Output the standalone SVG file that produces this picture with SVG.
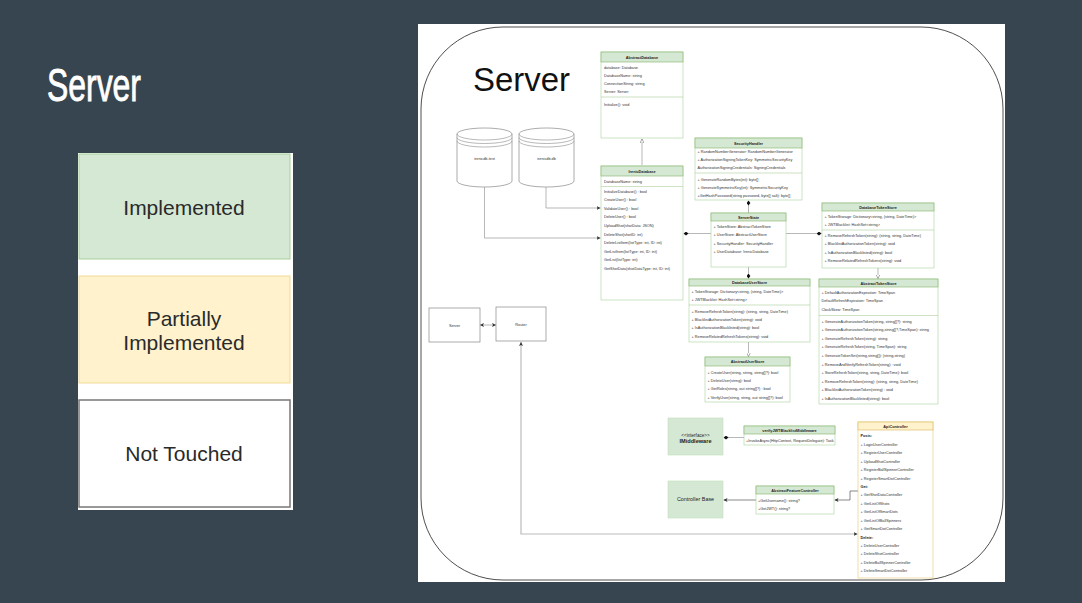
<svg xmlns="http://www.w3.org/2000/svg" width="1082" height="603" viewBox="0 0 1082 603">
<style>
.bg{fill:#36454f}
.hdr{fill:#d5e8d4;stroke:#82b366;stroke-width:.6}
.body{fill:#fff;stroke:#a9cf9b;stroke-width:.6}
.yhdr{fill:#fff2cc;stroke:#d6b656;stroke-width:.6}
.ybody{fill:#fff;stroke:#e3c972;stroke-width:.6}
.sep{stroke:#a9cf9b;stroke-width:.6}
.t{font-family:"Liberation Sans",Arial,sans-serif;font-size:3.8px;fill:#333}
.th{font-family:"Liberation Sans",Arial,sans-serif;font-size:3.8px;fill:#222;font-weight:bold;text-anchor:middle}
.tb{font-family:"Liberation Sans",Arial,sans-serif;font-size:3.8px;fill:#222;font-weight:bold}
.c{fill:none;stroke:#999;stroke-width:.7}
.plain{fill:#fff;stroke:#888;stroke-width:.7}
.leg{font-family:"Liberation Sans",Arial,sans-serif;font-size:21px;fill:#2a2a2a;text-anchor:middle}
</style>
<defs>
<marker id="tri" viewBox="0 0 6 6" refX="6" refY="3" markerWidth="4" markerHeight="4" markerUnits="userSpaceOnUse" orient="auto"><path d="M0,0 L6,3 L0,6 Z" fill="#fff" stroke="#666" stroke-width=".8"/></marker>
<marker id="dia" viewBox="0 0 8 6" refX="8" refY="3" markerWidth="5" markerHeight="4" markerUnits="userSpaceOnUse" orient="auto"><path d="M0,3 L4,0 L8,3 L4,6 Z" fill="#111"/></marker>
<marker id="arr" viewBox="0 0 6 6" refX="6" refY="3" markerWidth="4" markerHeight="4" markerUnits="userSpaceOnUse" orient="auto-start-reverse"><path d="M0,0 L6,3 L0,6 L1.5,3 Z" fill="#333"/></marker>
</defs>

<rect class="bg" x="0" y="0" width="1082" height="603"/>
<text x="47" y="101" font-family="'Liberation Sans',Arial,sans-serif" font-size="46" fill="#fff" stroke="#fff" stroke-width="0.9" textLength="94" lengthAdjust="spacingAndGlyphs">Server</text>

<g id="legend">
<rect x="78" y="153" width="215" height="357" fill="#fff"/>
<rect x="79" y="154" width="211" height="105" fill="#d5e8d4" stroke="#a6d096" stroke-width="1"/>
<text class="leg" x="184" y="214.5">Implemented</text>
<rect x="79" y="276" width="211" height="107" fill="#fff2cc" stroke="#f1dc97" stroke-width="1"/>
<text class="leg" x="184" y="325.5">Partially</text>
<text class="leg" x="184" y="349.5">Implemented</text>
<rect x="79" y="400" width="211" height="107" fill="#fff" stroke="#777" stroke-width="1.5"/>
<text class="leg" x="184" y="460.5">Not Touched</text>
</g>

<rect x="418" y="24" width="587" height="558" fill="#fff"/>
<rect x="421" y="27" width="582" height="553" rx="82" ry="82" fill="none" stroke="#222" stroke-width=".8"/>
<text x="473" y="91" font-family="'Liberation Sans',Arial,sans-serif" font-size="33" fill="#111" textLength="97" lengthAdjust="spacingAndGlyphs">Server</text>

<g id="connectors">
<path class="c" d="M642,165 V139" marker-end="url(#tri)"/>
<path class="c" d="M484.5,186 V238 H600.5" marker-end="url(#arr)"/>
<path class="c" d="M546,186 V208 H600.5" marker-end="url(#arr)"/>
<path class="c" d="M748.5,213 V200.5" marker-end="url(#dia)"/>
<path class="c" d="M711,233.5 H683.5" marker-end="url(#dia)"/>
<path class="c" d="M786,233.5 H821.5" marker-end="url(#dia)"/>
<path class="c" d="M748.5,267 V278.5" marker-end="url(#dia)"/>
<path class="c" d="M878,268 V278.5" marker-end="url(#tri)"/>
<path class="c" d="M748.5,342 V356.5" marker-end="url(#tri)"/>
<path class="c" d="M480,325 H496" marker-start="url(#arr)" marker-end="url(#arr)"/>
<path fill="none" stroke="#bbb" stroke-width="1.2" d="M521,342 V534 H857.5" marker-start="url(#arr)" marker-end="url(#arr)"/>
<path class="c" d="M744,437.5 H723.5" marker-end="url(#dia)"/>
<path fill="none" stroke="#555" stroke-width=".7" d="M756,500 H723.5" marker-end="url(#arr)"/>
<path fill="none" stroke="#555" stroke-width=".7" d="M858,491 H850 V500 H834.5" marker-end="url(#arr)"/>
</g>

<g id="db-test">
<path class="plain" d="M457,134 A27.5,6 0 0 1 512,134 L512,181 A27.5,6 0 0 1 457,181 Z"/>
<path class="c" stroke="#888" d="M457,134 A27.5,6 0 0 0 512,134 M457,137.5 A27.5,6 0 0 0 512,137.5 M457,141 A27.5,6 0 0 0 512,141"/>
<text class="t" x="484.5" y="160" text-anchor="middle">irenicdb-test</text>
</g>
<g id="db-main">
<path class="plain" d="M519,134 A27.5,6 0 0 1 574,134 L574,181 A27.5,6 0 0 1 519,181 Z"/>
<path class="c" stroke="#888" d="M519,134 A27.5,6 0 0 0 574,134 M519,137.5 A27.5,6 0 0 0 574,137.5 M519,141 A27.5,6 0 0 0 574,141"/>
<text class="t" x="546.5" y="160" text-anchor="middle">irenicdb.db</text>
</g>

<g id="AbstractDatabase">
<rect class="body" x="601" y="52" width="82" height="86"/>
<rect class="hdr" x="601" y="52" width="82" height="10"/>
<text class="th" x="642" y="58.5">AbstractDatabase</text>
<text class="t" x="604" y="68.5">database: Database</text>
<text class="t" x="604" y="76.5">DatabaseName: string</text>
<text class="t" x="604" y="84.5">ConnectionString: string</text>
<text class="t" x="604" y="92.5">Server: Server</text>
<line class="sep" x1="601" y1="97" x2="683" y2="97"/>
<text class="t" x="604" y="105.5">Initialize(): void</text>
</g>

<g id="IrenicDatabase">
<rect class="body" x="601" y="166" width="82" height="134"/>
<rect class="hdr" x="601" y="166" width="82" height="10"/>
<text class="th" x="642" y="172.5">IrenicDatabase</text>
<text class="t" x="604" y="182.5">DatabaseName: string</text>
<line class="sep" x1="601" y1="186.5" x2="683" y2="186.5"/>
<text class="t" x="604" y="192.5">InitializeDatabase() : bool</text>
<text class="t" x="604" y="201.2">CreateUser() : bool</text>
<text class="t" x="604" y="209.8">ValidateUser() : bool</text>
<text class="t" x="604" y="218.4">DeleteUser() : bool</text>
<text class="t" x="604" y="227">UploadShot(shotData: JSON)</text>
<text class="t" x="604" y="235.6">DeleteShot(shotID: int)</text>
<text class="t" x="604" y="244.2">DeleteListItem(listType: int, ID: int)</text>
<text class="t" x="604" y="252.8">GetListItem(listType: int, ID: int)</text>
<text class="t" x="604" y="261.4">GetList(listType: int)</text>
<text class="t" x="604" y="270">GetShotData(shotDataType: int, ID: int)</text>
</g>

<g id="SecurityHandler">
<rect class="body" x="695" y="138" width="107" height="62"/>
<rect class="hdr" x="695" y="138" width="107" height="10"/>
<text class="th" x="748.5" y="144.5">SecurityHandler</text>
<text class="t" x="697.5" y="152.5">+ RandomNumberGenerator: RandomNumberGenerator</text>
<text class="t" x="697.5" y="160.5">+ AuthorizationSigningTokenKey: SymmetricSecurityKey</text>
<text class="t" x="697.5" y="168.5">AuthorizationSigningCredentials: SigningCredentials</text>
<line class="sep" x1="695" y1="173" x2="802" y2="173"/>
<text class="t" x="697.5" y="180.5">+ GenerateRandomBytes(int): byte[]</text>
<text class="t" x="697.5" y="188.5">+ GenerateSymmetricKey(int): SymmetricSecurityKey</text>
<text class="t" x="697.5" y="196.5">+GetHashPassword(string password, byte[] salt): byte[]</text>
</g>

<g id="ServerState">
<rect class="body" x="711" y="213" width="75" height="54"/>
<rect class="hdr" x="711" y="213" width="75" height="8"/>
<text class="th" x="748.5" y="218.8">ServerState</text>
<text class="t" x="713.5" y="227.5">+ TokenStore: AbstractTokenStore</text>
<text class="t" x="713.5" y="235.8">+ UserStore: AbstractUserStore</text>
<text class="t" x="713.5" y="244.5">+ SecurityHandler: SecurityHandler</text>
<text class="t" x="713.5" y="253.2">+ UserDatabase: IrenicDatabase</text>
</g>

<g id="DatabaseTokenStore">
<rect class="body" x="822" y="203" width="112" height="65"/>
<rect class="hdr" x="822" y="203" width="112" height="8"/>
<text class="th" x="878" y="208.8">DatabaseTokenStore</text>
<text class="t" x="824.5" y="217.5">+ TokenStorage: Dictionary&lt;string, (string, DateTime)&gt;</text>
<text class="t" x="824.5" y="225.5">+ JWTBlacklist: HashSet&lt;string&gt;</text>
<line class="sep" x1="822" y1="230" x2="934" y2="230"/>
<text class="t" x="824.5" y="236.5">+ RemoveRefreshToken(string): (string, string, DateTime)</text>
<text class="t" x="824.5" y="245.2">+ BlacklistAuthorizationToken(string): void</text>
<text class="t" x="824.5" y="253.8">+ IsAuthorizationBlacklisted(string): bool</text>
<text class="t" x="824.5" y="262.4">+ RemoveRelatedRefreshTokens(string): void</text>
</g>

<g id="AbstractTokenStore">
<rect class="body" x="819" y="279" width="119" height="125"/>
<rect class="hdr" x="819" y="279" width="119" height="8"/>
<text class="th" x="878.5" y="284.8">AbstractTokenStore</text>
<text class="t" x="821.5" y="293.5">+ DefaultAuthorizationExpiration: TimeSpan</text>
<text class="t" x="821.5" y="301.8">DefaultRefreshExpiration: TimeSpan</text>
<text class="t" x="821.5" y="310.5">ClockSkew: TimeSpan</text>
<line class="sep" x1="819" y1="315.5" x2="938" y2="315.5"/>
<text class="t" x="821.5" y="322.5">+ GenerateAuthorizationToken(string, string[]?): string</text>
<text class="t" x="821.5" y="331.1">+ GenerateAuthorizationToken(string,string[]?,TimeSpan): string</text>
<text class="t" x="821.5" y="339.7">+ GenerateRefreshToken(string): string</text>
<text class="t" x="821.5" y="348.3">+ GenerateRefreshToken(string, TimeSpan): string</text>
<text class="t" x="821.5" y="356.9">+ GenerateTokenSet(string,string[]): (string,string)</text>
<text class="t" x="821.5" y="365.5">+ RemoveAndVerifyRefreshToken(string) : void</text>
<text class="t" x="821.5" y="374.1">+ StoreRefreshToken(string, string, DateTime): bool</text>
<text class="t" x="821.5" y="382.7">+ RemoveRefreshToken(string): (string, string, DateTime)</text>
<text class="t" x="821.5" y="391.3">+ BlacklistAuthorizationToken(string) : void</text>
<text class="t" x="821.5" y="399.9">+ IsAuthorizationBlacklisted(string): bool</text>
</g>

<g id="DatabaseUserStore">
<rect class="body" x="689" y="279" width="121" height="63"/>
<rect class="hdr" x="689" y="279" width="121" height="7"/>
<text class="th" x="749.5" y="284.2">DatabaseUserStore</text>
<text class="t" x="691.5" y="292.8">+ TokenStorage: Dictionary&lt;string, (string, DateTime)&gt;</text>
<text class="t" x="691.5" y="300.8">+ JWTBlacklist: HashSet&lt;string&gt;</text>
<line class="sep" x1="689" y1="305" x2="810" y2="305"/>
<text class="t" x="691.5" y="312.5">+ RemoveRefreshToken(string): (string, string, DateTime)</text>
<text class="t" x="691.5" y="320.8">+ BlacklistAuthorizationToken(string): void</text>
<text class="t" x="691.5" y="329">+ IsAuthorizationBlacklisted(string): bool</text>
<text class="t" x="691.5" y="337.5">+ RemoveRelatedRefreshTokens(string): void</text>
</g>

<g id="AbstractUserStore">
<rect class="body" x="705" y="357" width="85" height="45"/>
<rect class="hdr" x="705" y="357" width="85" height="9"/>
<text class="th" x="747.5" y="363.3">AbstractUserStore</text>
<text class="t" x="707.5" y="373.5">+ CreateUser(string, string, string[]?): bool</text>
<text class="t" x="707.5" y="381.8">+ DeleteUser(string): bool</text>
<text class="t" x="707.5" y="390.3">+ GetRoles(string, out string[]?) : bool</text>
<text class="t" x="707.5" y="398.7">+ VerifyUser(string, string, out string[]?): bool</text>
</g>

<g id="ServerBox">
<rect class="plain" x="429" y="308" width="51" height="34"/>
<text class="t" x="454.5" y="326.5" text-anchor="middle">Server</text>
</g>
<g id="Router">
<rect class="plain" x="496" y="307" width="50" height="34"/>
<text class="t" x="521" y="325.5" text-anchor="middle">Router</text>
</g>

<g id="IMiddleware">
<rect x="668" y="418" width="55" height="37" fill="#d5e8d4" stroke="#c3dfba" stroke-width=".6"/>
<text x="695.5" y="436.5" font-family="'Liberation Sans',Arial,sans-serif" font-size="4.6" fill="#222" text-anchor="middle">&lt;&lt;interface&gt;&gt;</text>
<text x="695.5" y="443.3" font-family="'Liberation Sans',Arial,sans-serif" font-size="5.6" font-weight="bold" fill="#222" text-anchor="middle">IMiddleware</text>
</g>

<g id="verifyJWTBlacklistMiddleware">
<rect class="body" x="744" y="426" width="91" height="19"/>
<rect class="hdr" x="744" y="426" width="91" height="8"/>
<text class="th" x="789.5" y="431.5">verifyJWTBlacklistMiddleware</text>
<text class="t" x="746" y="441.5">+InvokeAsync(HttpContext, RequestDelegate): Task</text>
</g>

<g id="ControllerBase">
<rect x="668" y="481" width="55" height="37" fill="#d5e8d4" stroke="#c3dfba" stroke-width=".6"/>
<text x="695.5" y="501.3" font-family="'Liberation Sans',Arial,sans-serif" font-size="5.4" fill="#222" text-anchor="middle">Controller Base</text>
</g>

<g id="AbstractFeatureController">
<rect class="body" x="756" y="486" width="78" height="28"/>
<rect class="hdr" x="756" y="486" width="78" height="8"/>
<text class="th" x="795" y="491.5">AbstractFeatureController</text>
<text class="t" x="758" y="501.5">+GetUsername(): string?</text>
<text class="t" x="758" y="510">+GetJWT(): string?</text>
</g>

<g id="ApiController">
<rect class="ybody" x="858" y="422" width="75" height="156"/>
<rect class="yhdr" x="858" y="422" width="75" height="8"/>
<text class="th" x="895.5" y="427.5" font-weight="normal">ApiController</text>
<text class="tb" x="860.5" y="437.3">Posts:</text>
<text class="t" x="860.5" y="445.8">+ LoginUserController</text>
<text class="t" x="860.5" y="454.3">+ RegisterUserController</text>
<text class="t" x="860.5" y="462.7">+ UploadShotController</text>
<text class="t" x="860.5" y="471.1">+ RegisterBallSpinnerController</text>
<text class="t" x="860.5" y="479.5">+ RegisterSmartDotController</text>
<text class="tb" x="860.5" y="488">Get:</text>
<text class="t" x="860.5" y="496.4">+ GetShotDataController</text>
<text class="t" x="860.5" y="504.8">+ GetListOfShots</text>
<text class="t" x="860.5" y="513.3">+ GetListOfSmartDots</text>
<text class="t" x="860.5" y="521.7">+ GetListOfBallSpinners</text>
<text class="t" x="860.5" y="530.1">+ GetSmartDotController</text>
<text class="tb" x="860.5" y="538.6">Delete:</text>
<text class="t" x="860.5" y="547">+ DeleteUserController</text>
<text class="t" x="860.5" y="555.4">+ DeleteShotController</text>
<text class="t" x="860.5" y="563.9">+ DeleteBallSpinnerController</text>
<text class="t" x="860.5" y="572.3">+ DeleteSmartDotController</text>
</g>
</svg>
